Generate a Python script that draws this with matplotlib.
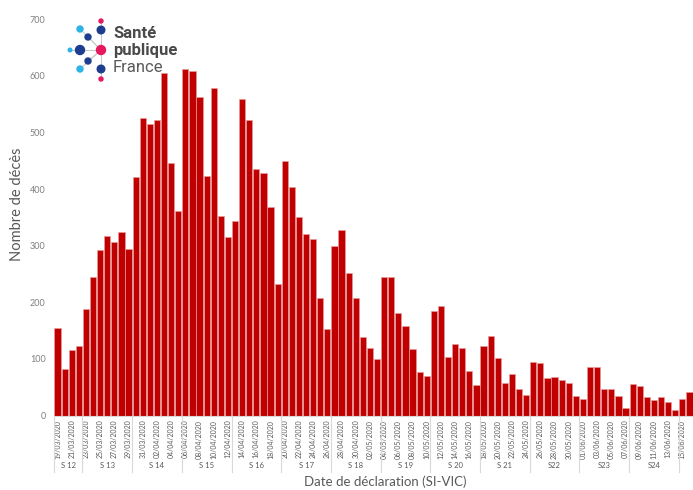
import matplotlib
matplotlib.use("Agg")
import matplotlib.pyplot as plt
import matplotlib.transforms as mtransforms
from matplotlib.patches import Circle
import pandas as pd

# ---------------- data ----------------
start_date = "2020-03-19"
deaths = [155, 82, 115, 123, 189, 244, 293, 318, 307, 325, 294,
          422, 525, 516, 523, 605, 447, 362,
          613, 608, 563, 424, 578, 352, 315,
          344, 560, 523, 436, 428, 368, 232,
          450, 404, 350, 320, 312, 207, 153,
          300, 328, 251, 207, 138, 120, 100,
          245, 244, 181, 159, 118, 77, 70,
          184, 193, 104, 126, 119, 78, 54,
          122, 140, 101, 58, 74, 47, 36,
          94, 92, 66, 68, 63, 57, 34,
          30, 85, 85, 46, 47, 34, 13,
          55, 52, 33, 28, 33, 24, 9,
          29, 41]
dates = pd.date_range(start_date, periods=len(deaths)).strftime("%d/%m/%Y").tolist()
week_labels = ["S 12", "S 13", "S 14", "S 15", "S 16", "S 17", "S 18",
               "S 19", "S 20", "S 21", "S22", "S23", "S24", ""]
week_sizes = [4, 7, 7, 7, 7, 7, 7, 7, 7, 7, 7, 7, 7, 2]
y_ticks = [0, 100, 200, 300, 400, 500, 600, 700]

# ---------------- style ----------------
FONT = ["Lato", "DejaVu Sans"]
plt.rcParams["font.family"] = FONT
GREY = "#595959"
BAR = "#c00000"

W, H = 693, 490
fig = plt.figure(figsize=(W / 100, H / 100), dpi=100)

x0_px, x1_px = 54, 693
y0_px, y700_px = 415.5, 19.4
ax = fig.add_axes([x0_px / W, 1 - y0_px / H, (x1_px - x0_px) / W, (y0_px - y700_px) / H])

xs = list(range(len(deaths)))
ax.bar(xs, deaths, width=0.86, color=BAR, edgecolor="#e79a9a", linewidth=0.5)

ax.set_xlim(-0.5, len(deaths) - 0.5)
ax.set_ylim(0, 700)
ax.set_yticks(y_ticks)
ax.set_yticklabels([str(v) for v in y_ticks], fontsize=6.5, color="#7f7f7f")
ax.tick_params(axis="y", length=0, pad=6)

ax.set_xticks(xs[::2])
ax.set_xticklabels(dates[::2], rotation=90, fontsize=5, color=GREY)
ax.tick_params(axis="x", length=0, pad=3)

for s in ["top", "right", "left"]:
    ax.spines[s].set_visible(False)
ax.spines["bottom"].set_color("#d9d9d9")
ax.spines["bottom"].set_linewidth(0.8)

# week groups
trans = mtransforms.blended_transform_factory(ax.transData, ax.transAxes)
sep_y = (y0_px - 472) / (y0_px - y700_px)
lab_y = (y0_px - 466) / (y0_px - y700_px)
pos = -0.5
ax.plot([pos, pos], [0, sep_y], transform=trans, color="#d9d9d9", lw=0.8, clip_on=False)
for lab, n in zip(week_labels, week_sizes):
    center = pos + n / 2
    if lab:
        ax.text(center, lab_y, lab, transform=trans, ha="center", va="center",
                fontsize=5.5, color=GREY)
    pos += n
    if pos < len(deaths) - 0.5:
        ax.plot([pos, pos], [0, sep_y], transform=trans, color="#d9d9d9", lw=0.8, clip_on=False)

# axis titles
fig.text(385 / W, 1 - 482 / H, "Date de déclaration (SI-VIC)", ha="center", va="center",
         fontsize=9.5, color=GREY)
fig.text(17 / W, 1 - 204 / H, "Nombre de décès", ha="center", va="center", rotation=90,
         fontsize=10.5, color=GREY)

# ---------------- logo ----------------
lax = fig.add_axes([0, 0, 1, 1], zorder=5)
lax.set_xlim(0, W)
lax.set_ylim(H, 0)
lax.axis("off")
DB, LB, PK = "#1f3d8f", "#2db3e6", "#e6185e"
cx, cy = 101, 50
dots = [
    (80, 29, 3.0, LB), (88, 37, 3.0, DB), (80, 50, 4.5, DB), (70, 50, 1.8, LB),
    (88, 61, 3.0, DB), (80, 69, 3.0, LB), (101, 21, 2.0, PK), (101, 30, 3.8, DB),
    (101, 69, 3.8, DB), (101, 79, 2.0, PK),
]
for (x, y, r, c) in dots:
    lax.plot([cx, x], [cy, y], color="#c8c8c8", lw=0.7, zorder=1)
for (x, y, r, c) in dots:
    lax.add_patch(Circle((x, y), r, color=c, zorder=2))
lax.add_patch(Circle((cx, cy), 4.5, color=PK, zorder=2))
LOGO_FONT = ["Roboto", "DejaVu Sans"]
lax.text(113, 34, "Santé", fontsize=12, fontweight="bold", color="#4a4a4a",
         ha="left", va="center", family=LOGO_FONT)
lax.text(113, 50, "publique", fontsize=12, fontweight="bold", color="#4a4a4a",
         ha="left", va="center", family=LOGO_FONT)
lax.text(113, 67, "France", fontsize=12, fontweight="normal", color="#5a5a5a",
         ha="left", va="center", family=LOGO_FONT)

fig.savefig("out.png", dpi=100)
